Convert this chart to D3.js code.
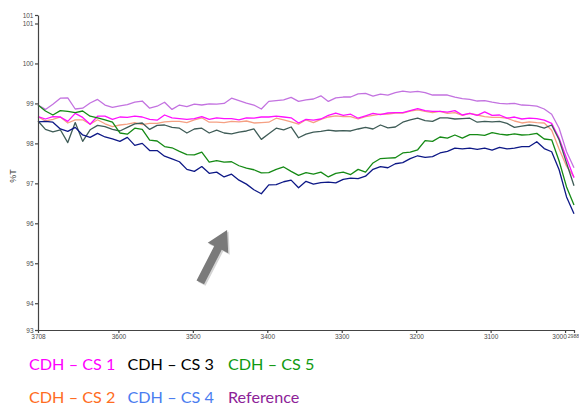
<!DOCTYPE html>
<html>
<head>
<meta charset="utf-8">
<script src="https://cdn.jsdelivr.net/npm/d3@7/dist/d3.min.js"></script>
<style>
  html, body { margin: 0; padding: 0; background: #fff; }
  svg { display: block; }
  .axis text { font-family: "Liberation Sans", Arial, sans-serif; font-size: 6.5px; fill: #4a4a4a; }
  .axis path, .axis line { stroke: #444; stroke-width: 1.2px; }
  .legend text { font-family: Lato, "Open Sans", sans-serif; font-size: 16.2px; }
</style>
</head>
<body>
<svg id="chart" width="579" height="407"></svg>
<script>
// Wavenumber grid (cm-1), high to low as in an IR spectrum
const wavenumbers = d3.range(3708, 2987, -10);

// Transmittance (%T) per sample
const reference = [98.96, 98.85, 98.98, 99.13, 99.14, 98.86, 98.88, 99.01, 99.10, 98.96,
  98.90, 98.94, 98.97, 99.03, 99.06, 98.88, 98.93, 99.03, 98.85, 98.96,
  98.92, 98.98, 98.96, 98.99, 98.98, 99.00, 99.13, 99.07, 99.01, 98.96,
  98.86, 99.05, 99.07, 99.09, 99.15, 99.05, 99.09, 99.11, 99.19, 99.05,
  99.14, 99.16, 99.16, 99.24, 99.25, 99.18, 99.23, 99.21, 99.27, 99.31,
  99.28, 99.30, 99.27, 99.21, 99.21, 99.21, 99.16, 99.12, 99.10, 99.06,
  99.07, 99.03, 99.00, 98.99, 99.00, 98.96, 98.95, 98.93, 98.86, 98.73,
  98.38, 97.79, 97.39];

const cs1 = [98.67, 98.61, 98.67, 98.66, 98.55, 98.75, 98.65, 98.48, 98.68, 98.68,
  98.60, 98.66, 98.65, 98.68, 98.66, 98.60, 98.58, 98.71, 98.64, 98.62,
  98.60, 98.62, 98.67, 98.60, 98.64, 98.62, 98.62, 98.59, 98.64, 98.63,
  98.66, 98.66, 98.68, 98.66, 98.64, 98.51, 98.60, 98.58, 98.61, 98.70,
  98.76, 98.70, 98.73, 98.63, 98.69, 98.75, 98.72, 98.76, 98.77, 98.77,
  98.82, 98.87, 98.82, 98.80, 98.80, 98.78, 98.82, 98.71, 98.75, 98.70,
  98.79, 98.70, 98.71, 98.63, 98.66, 98.61, 98.63, 98.62, 98.58, 98.50,
  98.13, 97.63, 97.14];

const cs2 = [98.67, 98.56, 98.60, 98.66, 98.51, 98.59, 98.59, 98.48, 98.59, 98.49,
  98.42, 98.46, 98.48, 98.52, 98.47, 98.50, 98.50, 98.54, 98.55, 98.55,
  98.52, 98.59, 98.64, 98.53, 98.53, 98.52, 98.55, 98.54, 98.56, 98.51,
  98.52, 98.53, 98.63, 98.59, 98.54, 98.48, 98.59, 98.52, 98.60, 98.66,
  98.69, 98.67, 98.67, 98.61, 98.67, 98.70, 98.73, 98.73, 98.76, 98.76,
  98.81, 98.84, 98.80, 98.77, 98.80, 98.75, 98.77, 98.70, 98.75, 98.71,
  98.67, 98.65, 98.65, 98.63, 98.56, 98.51, 98.54, 98.52, 98.51, 98.33,
  97.86, 97.43, 97.16];

const cs3 = [98.56, 98.35, 98.29, 98.34, 98.02, 98.52, 98.05, 98.34, 98.45, 98.42,
  98.35, 98.31, 98.40, 98.49, 98.51, 98.35, 98.45, 98.46, 98.40, 98.38,
  98.26, 98.36, 98.38, 98.26, 98.33, 98.26, 98.24, 98.28, 98.31, 98.36,
  98.10, 98.24, 98.38, 98.34, 98.41, 98.14, 98.23, 98.28, 98.30, 98.33,
  98.31, 98.32, 98.31, 98.36, 98.40, 98.36, 98.46, 98.39, 98.41, 98.53,
  98.59, 98.63, 98.57, 98.55, 98.64, 98.64, 98.61, 98.62, 98.63, 98.53,
  98.55, 98.54, 98.55, 98.50, 98.40, 98.43, 98.46, 98.44, 98.38, 98.46,
  98.09, 97.51, 96.94];

const cs4 = [98.54, 98.55, 98.53, 98.36, 98.30, 98.40, 98.21, 98.15, 98.25, 98.16,
  98.11, 98.05, 98.15, 97.95, 98.00, 97.82, 97.82, 97.68, 97.61, 97.54,
  97.35, 97.30, 97.42, 97.25, 97.28, 97.16, 97.23, 97.08, 96.98, 96.84,
  96.74, 96.96, 96.97, 97.04, 97.08, 96.89, 97.05, 96.98, 97.02, 97.03,
  97.01, 97.10, 97.13, 97.12, 97.18, 97.35, 97.42, 97.39, 97.49, 97.52,
  97.62, 97.69, 97.65, 97.67, 97.76, 97.80, 97.88, 97.86, 97.88, 97.85,
  97.88, 97.83, 97.90, 97.86, 97.88, 97.92, 97.92, 98.04, 97.87, 97.79,
  97.34, 96.66, 96.24];

const cs5 = [98.96, 98.81, 98.71, 98.82, 98.80, 98.77, 98.81, 98.68, 98.64, 98.59,
  98.53, 98.26, 98.23, 98.38, 98.35, 98.08, 98.06, 97.92, 97.89, 97.80,
  97.72, 97.71, 97.78, 97.53, 97.57, 97.53, 97.54, 97.44, 97.38, 97.34,
  97.26, 97.27, 97.35, 97.41, 97.30, 97.20, 97.27, 97.23, 97.28, 97.16,
  97.25, 97.28, 97.22, 97.35, 97.28, 97.51, 97.62, 97.63, 97.64, 97.76,
  97.78, 97.84, 98.07, 98.05, 98.16, 98.13, 98.21, 98.13, 98.22, 98.22,
  98.20, 98.27, 98.23, 98.21, 98.24, 98.21, 98.22, 98.25, 98.11, 98.09,
  97.56, 96.91, 96.46];

// Axis ticks (the ends of each axis are labelled too)
const xTicks = [3708, 3600, 3500, 3400, 3300, 3200, 3100, 3000, 2988];
const yTicks = [93.33, 94, 95, 96, 97, 98, 99, 100, 101, 101.2125];

// Legend entries, two rows of three
const legendNames = ["CDH \u2013 CS 1", "CDH \u2013 CS 3", "CDH \u2013 CS 5",
                     "CDH \u2013 CS 2", "CDH \u2013 CS 4", "Reference"];

const series = [
  { name: "Reference",      values: reference, line: "#c372e0" },
  { name: "CDH \u2013 CS 2", values: cs2,       line: "#f5a083" },
  { name: "CDH \u2013 CS 1", values: cs1,       line: "#ff10ff" },
  { name: "CDH \u2013 CS 3", values: cs3,       line: "#3f5c57" },
  { name: "CDH \u2013 CS 5", values: cs5,       line: "#158a15" },
  { name: "CDH \u2013 CS 4", values: cs4,       line: "#0d1886" }
];
const legendColor = {
  "CDH \u2013 CS 1": "#ff00ff",
  "CDH \u2013 CS 3": "#000000",
  "CDH \u2013 CS 5": "#109a10",
  "CDH \u2013 CS 2": "#ff6c22",
  "CDH \u2013 CS 4": "#4a7df0",
  "Reference": "#8d2298"
};

const svg = d3.select("#chart");
svg.append("rect").attr("width", 579).attr("height", 407).attr("fill", "#fff");

const x = d3.scaleLinear().domain([3708, 2988]).range([38, 574]);
const y = d3.scaleLinear().domain([93.33, 101.2125]).range([330, 15]);

// Spectra
const line = d3.line()
  .x((d, i) => x(wavenumbers[i]))
  .y(d => y(d));

svg.append("g").selectAll("path")
  .data(series)
  .join("path")
  .attr("d", d => line(d.values))
  .attr("fill", "none")
  .attr("stroke", d => d.line)
  .attr("stroke-width", 1.3)
  .attr("stroke-linejoin", "round");

// Axes
const fmt = d3.format(".0f");
svg.append("g")
  .attr("class", "axis")
  .attr("transform", "translate(38,0)")
  .call(d3.axisLeft(y).tickValues(yTicks).tickFormat(d => fmt(d)).tickSize(3).tickSizeOuter(0).tickPadding(1.5));

const xAxis = svg.append("g")
  .attr("class", "axis")
  .attr("transform", "translate(0,330)")
  .call(d3.axisBottom(x).tickValues(xTicks).tickFormat(d3.format("d")).tickSize(3).tickSizeOuter(0).tickPadding(1));
// the two right-hand labels crowd together at the axis end
xAxis.selectAll(".tick").filter(d => d === 3000).select("text")
  .attr("text-anchor", "end").attr("dx", 1.2);
xAxis.selectAll(".tick").filter(d => d === 2988).select("text")
  .attr("text-anchor", "end").attr("dx", 4.6).style("font-size", "5.1px");

svg.append("text")
  .attr("transform", "translate(16,176) rotate(-90)")
  .attr("text-anchor", "middle")
  .attr("font-family", "Liberation Sans, Arial, sans-serif")
  .attr("font-size", 9)
  .attr("fill", "#444")
  .text("%T");

// Arrow pointing at the broad absorption region
const arrowTail = [3490, 94.52];
const arrowTip = [3454, 95.83];
(function drawArrow() {
  const tx = x(arrowTail[0]), ty = y(arrowTail[1]);
  const hx = x(arrowTip[0]), hy = y(arrowTip[1]);
  const len = Math.hypot(hx - tx, hy - ty);
  const ux = (hx - tx) / len, uy = (hy - ty) / len;
  const px = -uy, py = ux;
  const shaftW = 4.2, headW = 11.5, headL = 20;
  const bx = hx - ux * headL, by = hy - uy * headL;
  const p = d3.path();
  p.moveTo(tx + px * shaftW, ty + py * shaftW);
  p.lineTo(bx + px * shaftW, by + py * shaftW);
  p.lineTo(bx + px * headW, by + py * headW);
  p.lineTo(hx, hy);
  p.lineTo(bx - px * headW, by - py * headW);
  p.lineTo(bx - px * shaftW, by - py * shaftW);
  p.lineTo(tx - px * shaftW, ty - py * shaftW);
  p.closePath();
  svg.append("path").attr("d", p.toString())
    .attr("fill", "#d4d4d4").attr("transform", "translate(1.5,1.5)");
  svg.append("path").attr("d", p.toString()).attr("fill", "#7a7a7a");
})();

// Legend
const legendX = [29, 127.5, 228];
const legendY = [369.5, 403];
svg.append("g").attr("class", "legend")
  .selectAll("text")
  .data(legendNames)
  .join("text")
  .attr("x", (d, i) => legendX[i % 3])
  .attr("y", (d, i) => legendY[Math.floor(i / 3)])
  .attr("fill", d => legendColor[d])
  .text(d => d);
</script>
</body>
</html>
